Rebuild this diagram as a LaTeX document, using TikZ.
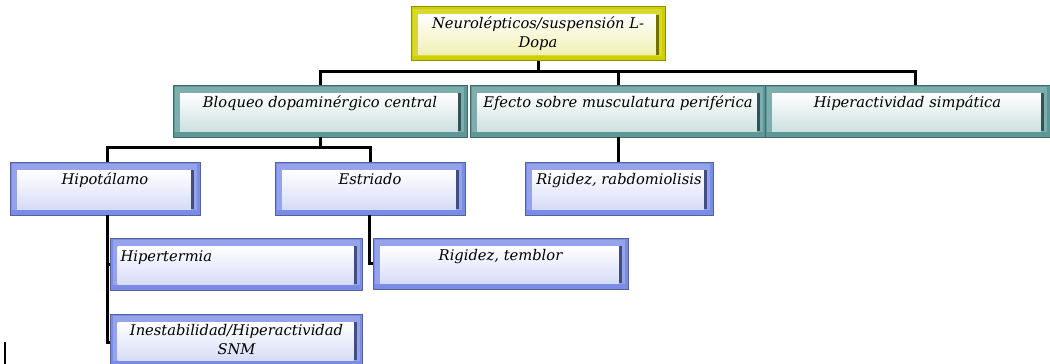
\documentclass[tikz,border=0pt]{standalone}
\usepackage{fontspec}
\setmainfont{DejaVu Serif}
\usetikzlibrary{calc}
\definecolor{yel}{RGB}{206,206,0}
\definecolor{tealb}{RGB}{92,152,152}
\definecolor{peri}{RGB}{122,140,230}
\tikzset{
  bevel/.style={rectangle, inner sep=0pt, fill=#1, draw=#1!70!black, line width=0.5pt,
    font=\fontsize{14.7}{19}\selectfont\itshape, align=center,
    path picture={
      \fill[#1!80!white] ([shift={(2pt,-2pt)}]path picture bounding box.north west) rectangle ([shift={(-3pt,5pt)}]path picture bounding box.south east);
      \shade[top color=white, middle color=white, bottom color=#1!30!white] ([shift={(7pt,-8pt)}]path picture bounding box.north west) rectangle ([shift={(-9pt,6pt)}]path picture bounding box.south east);
      \fill[#1!55!black] ([shift={(-9pt,-8pt)}]path picture bounding box.north east) rectangle ([shift={(-6pt,6pt)}]path picture bounding box.south east);
    }},
  topbox/.style={bevel=yel},
  lvtwo/.style={bevel=tealb, text height=10pt, text depth=18pt},
  lvthree/.style={bevel=peri, text height=10pt, text depth=19pt},
  lvfour/.style={bevel=peri},
  conn/.style={draw=black, line width=3pt},
}
\begin{document}
\begin{tikzpicture}[x=1pt,y=-1pt]
\useasboundingbox[fill=white] (0,0) rectangle (1050,364);

\node[topbox, minimum width=254pt, minimum height=54pt] (top) at (538,33.5)
  {Neurolépticos/suspensión L-\\Dopa};

\node[lvtwo, minimum width=294pt, minimum height=52pt] (b1) at (320,111) {Bloqueo dopaminérgico central};
\node[lvtwo, minimum width=296pt, minimum height=52pt] (b2) at (618,111) {Efecto sobre musculatura periférica};
\node[lvtwo, minimum width=285pt, minimum height=52pt] (b3) at (907.5,111) {Hiperactividad simpática};

\node[lvthree, minimum width=190pt, minimum height=53pt] (hipo) at (105,188.5) {Hipotálamo};
\node[lvthree, minimum width=190pt, minimum height=53pt] (estr) at (370,188.5) {Estriado};
\node[lvthree, minimum width=188pt, minimum height=53pt] (rabdo) at (619,188.5) {Rigidez, rabdomiolisis};

\node[lvfour, minimum width=252pt, minimum height=52pt, text width=232pt, align=left, text height=10pt, text depth=16pt] (hiper) at (236.5,264) {Hipertermia};
\node[lvfour, minimum width=255pt, minimum height=51pt, text height=10pt, text depth=16pt] (temb) at (500.5,263.5) {Rigidez, temblor};
\node[lvfour, minimum width=252pt, minimum height=52pt, text width=240pt] (snm) at (236.5,340) {Inestabilidad/Hiperactividad\\SNM};

\draw[conn] (top.south) -- ++(0,11) coordinate (j0);
\draw[conn] (b1.north) |- (j0);
\draw[conn] (b2.north) |- (j0);
\draw[conn] ([xshift=8pt]b3.north) |- (j0);

\draw[conn] (b1.south) -- ++(0,10) coordinate (j1);
\draw[conn] ([xshift=2pt]hipo.north) |- (j1);
\draw[conn] (estr.north) |- (j1);
\draw[conn] (b2.south) -- (b2.south |- rabdo.north);

\draw[conn] ([xshift=2pt]hipo.south) |- (hiper.west);
\draw[conn] ([xshift=2pt]hipo.south) |- ([yshift=-2pt]snm.west);
\draw[conn] ([xshift=-1pt]estr.south) |- (temb.west);

\draw[line width=1.8pt] (5,342) -- (5,364);
\end{tikzpicture}
\end{document}
